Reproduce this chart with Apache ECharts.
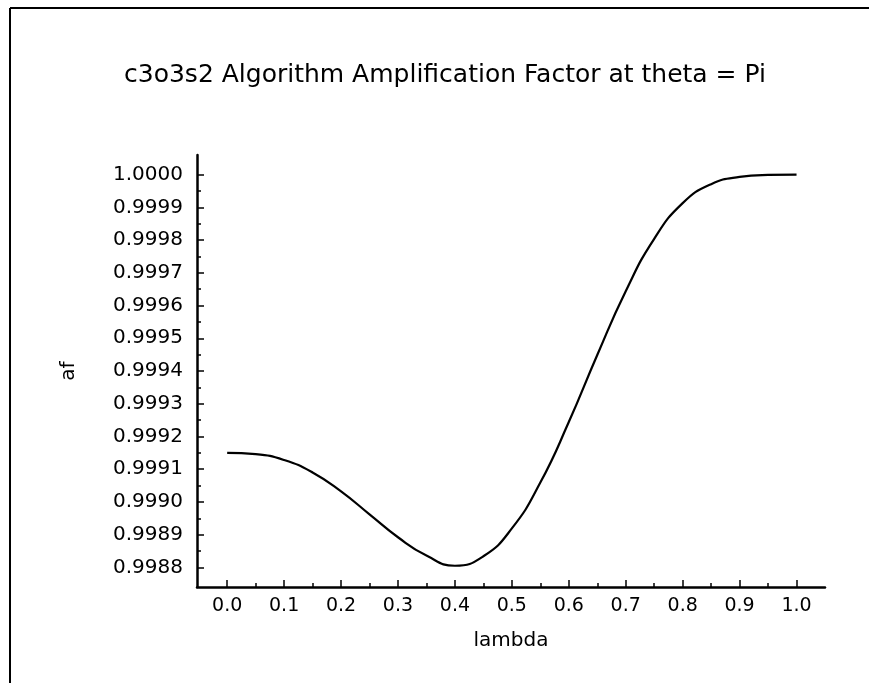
<!DOCTYPE html>
<html>
<head>
<meta charset="utf-8">
<title>c3o3s2 amplification factor</title>
<script src="https://cdn.jsdelivr.net/npm/echarts@6/dist/echarts.min.js"></script>
<style>
    html, body { margin: 0; padding: 0; background: #fff; }
    #chart { width: 869px; height: 683px; }
</style>
</head>
<body>
<div id="chart"></div>
<script>
// 数据: lambda 与 af (从图上读出来的)
var lambdaArr = [0.0, 0.05, 0.1, 0.15, 0.2, 0.25, 0.3, 0.35, 0.4, 0.45, 0.5,
    0.55, 0.6, 0.65, 0.7, 0.75, 0.8, 0.85, 0.9, 0.95, 1.0];
var afArr = [0.99915, 0.999146, 0.999128, 0.99909, 0.999032, 0.998962, 0.998892, 0.998836, 0.998805, 0.998834, 0.998919,
    0.999059, 0.999244, 0.999449, 0.999644, 0.999804, 0.999913, 0.999971, 0.999993, 0.999999, 1.0];
// 刻度
var xTicks = [0.0, 0.1, 0.2, 0.3, 0.4, 0.5, 0.6, 0.7, 0.8, 0.9, 1.0];
var xMinorTicks = [0.05, 0.15, 0.25, 0.35, 0.45, 0.55, 0.65, 0.75, 0.85, 0.95];
var yTicks = [0.9988, 0.9989, 0.9990, 0.9991, 0.9992, 0.9993, 0.9994, 0.9995, 0.9996, 0.9997, 0.9998, 0.9999, 1.0000];
var yMinorTicks = [0.99885, 0.99895, 0.99905, 0.99915, 0.99925, 0.99935, 0.99945, 0.99955, 0.99965, 0.99975, 0.99985, 0.99995];

var font = 'DejaVu Sans';
var points = [];
lambdaArr.forEach(function (l, ind) {
    points.push([l, afArr[ind]]);
});

var myChart = echarts.init(document.getElementById('chart'));
myChart.setOption({
    animation: false,
    backgroundColor: '#fff',
    title: {
        text: 'c3o3s2 Algorithm Amplification Factor at theta = Pi',
        left: 440,
        top: 58,
        textAlign: 'center',
        textStyle: { fontFamily: font, fontSize: 25, fontWeight: 'normal', color: '#000' }
    },
    grid: { left: 197, right: 44, top: 155, bottom: 96 },
    xAxis: [
        {
            type: 'value',
            min: -0.053,
            max: 1.05,
            name: 'lambda',
            nameLocation: 'middle',
            nameGap: 44,
            nameTextStyle: { fontFamily: font, fontSize: 20, color: '#000' },
            axisLine: { onZero: false, lineStyle: { color: '#000', width: 2.5 } },
            axisTick: { inside: true, length: 7, lineStyle: { color: '#000', width: 1.5 }, customValues: xTicks },
            axisLabel: {
                margin: 10, fontFamily: font, fontSize: 19, color: '#000',
                customValues: xTicks,
                formatter: function (v) { return v.toFixed(1); }
            },
            splitLine: { show: false }
        },
        {
            // 小刻度
            type: 'value',
            position: 'bottom',
            min: -0.053,
            max: 1.05,
            axisLine: { show: false, onZero: false },
            axisTick: { inside: true, length: 4, lineStyle: { color: '#000', width: 1.5 }, customValues: xMinorTicks },
            axisLabel: { show: false },
            splitLine: { show: false }
        }
    ],
    yAxis: [
        {
            type: 'value',
            min: 0.99874,
            max: 1.00006,
            name: 'af',
            nameLocation: 'middle',
            nameRotate: 90,
            nameGap: 118,
            nameTextStyle: { fontFamily: font, fontSize: 20, color: '#000' },
            axisLine: { show: true, onZero: false, lineStyle: { color: '#000', width: 2.5 } },
            axisTick: { show: true, inside: true, length: 7, lineStyle: { color: '#000', width: 1.5 }, customValues: yTicks },
            axisLabel: {
                margin: 14, fontFamily: font, fontSize: 20, color: '#000',
                customValues: yTicks,
                formatter: function (v) { return v.toFixed(4); }
            },
            splitLine: { show: false }
        },
        {
            type: 'value',
            position: 'left',
            min: 0.99874,
            max: 1.00006,
            axisLine: { show: false, onZero: false },
            axisTick: { show: true, inside: true, length: 4, lineStyle: { color: '#000', width: 1.5 }, customValues: yMinorTicks },
            axisLabel: { show: false },
            splitLine: { show: false }
        }
    ],
    series: [
        {
            name: 'af',
            type: 'line',
            data: points,
            smooth: true,
            symbol: 'none',
            lineStyle: { color: '#000', width: 2.2 }
        }
    ],
    // 外框 (扫描图上的边线)
    graphic: [
        { type: 'line', shape: { x1: 10, y1: 8, x2: 869, y2: 8 }, style: { stroke: '#000', lineWidth: 2 } },
        { type: 'line', shape: { x1: 10, y1: 8, x2: 10, y2: 683 }, style: { stroke: '#000', lineWidth: 2 } }
    ]
});
</script>
</body>
</html>
